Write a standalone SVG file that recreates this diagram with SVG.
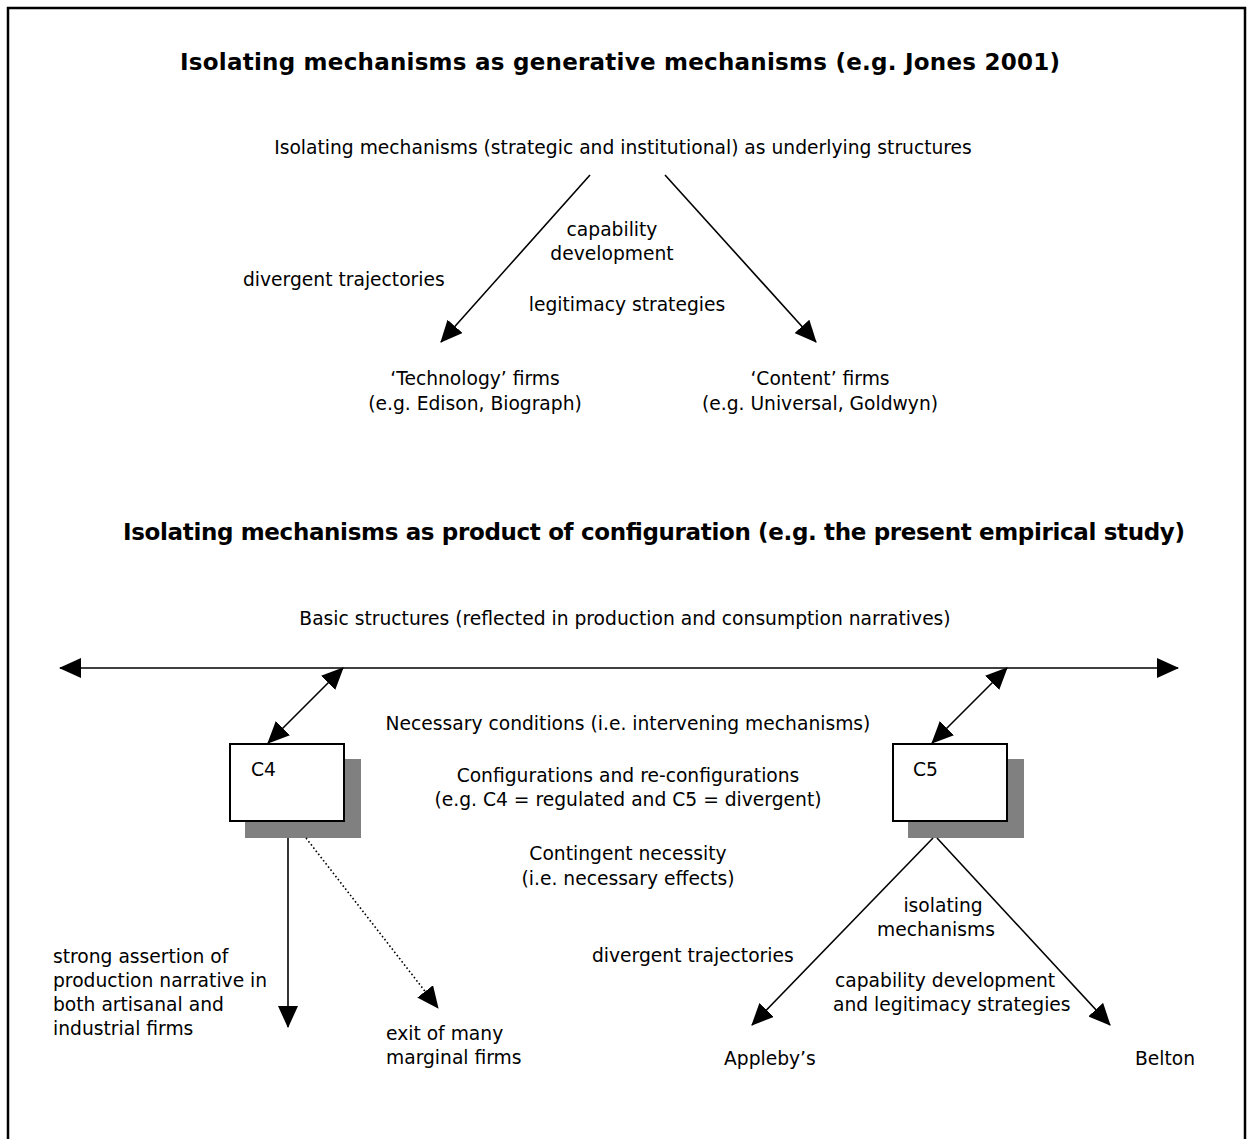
<svg xmlns="http://www.w3.org/2000/svg" width="1247" height="1139" viewBox="0 0 1247 1139">
  <defs>
    <marker id="head" viewBox="0 0 22 20" markerWidth="22" markerHeight="20" refX="21" refY="10" orient="auto-start-reverse" markerUnits="userSpaceOnUse">
      <path d="M0,0 L22,10 L0,20 z" fill="#000"/>
    </marker>
    <style>
      text { font-family: "DejaVu Sans", "Liberation Sans", sans-serif; font-size: 18.7px; fill: #000; }
      .title { font-weight: bold; font-size: 23px; }
      .mid { text-anchor: middle; }
      .line { stroke: #000; stroke-width: 1.6; fill: none; }
      .dotted { stroke: #000; stroke-width: 1.6; fill: none; stroke-dasharray: 1.6 2.4; }
      .box { fill: #fff; stroke: #000; stroke-width: 2; }
      .shadow { fill: #808080; }
    </style>
  </defs>

  <rect x="0" y="0" width="1247" height="1139" fill="#fff"/>
  <!-- frame -->
  <rect x="8" y="8" width="1237" height="1200" fill="none" stroke="#000" stroke-width="2.5"/>

  <!-- upper panel -->
  <g id="title-generative">
    <text class="title mid" x="620" y="70" textLength="880" lengthAdjust="spacing">Isolating mechanisms as generative mechanisms (e.g. Jones 2001)</text>
  </g>
  <g id="underlying-structures">
    <text class="mid" x="623" y="154">Isolating mechanisms (strategic and institutional) as underlying structures</text>
  </g>
  <g id="upper-labels">
    <text class="mid" x="612" y="236">capability</text>
    <text class="mid" x="612" y="260">development</text>
    <text x="243" y="286">divergent trajectories</text>
    <text class="mid" x="627" y="311">legitimacy strategies</text>
  </g>
  <g id="technology-firms">
    <text class="mid" x="475" y="385">‘Technology’ firms</text>
    <text class="mid" x="475" y="410">(e.g. Edison, Biograph)</text>
  </g>
  <g id="content-firms">
    <text class="mid" x="820" y="385">‘Content’ firms</text>
    <text class="mid" x="820" y="410">(e.g. Universal, Goldwyn)</text>
  </g>

  <!-- lower panel -->
  <g id="title-configuration">
    <text class="title mid" x="654" y="540" textLength="1062" lengthAdjust="spacing">Isolating mechanisms as product of configuration (e.g. the present empirical study)</text>
  </g>
  <g id="basic-structures">
    <text class="mid" x="625" y="625">Basic structures (reflected in production and consumption narratives)</text>
  </g>
  <g id="middle-labels">
    <text class="mid" x="628" y="730">Necessary conditions (i.e. intervening mechanisms)</text>
    <text class="mid" x="628" y="782">Configurations and re-configurations</text>
    <text class="mid" x="628" y="806">(e.g. C4 = regulated and C5 = divergent)</text>
    <text class="mid" x="628" y="860">Contingent necessity</text>
    <text class="mid" x="628" y="885">(i.e. necessary effects)</text>
  </g>

  <g id="node-c4">
    <rect class="shadow" x="245" y="759" width="116" height="79"/>
    <rect class="box" x="230" y="744" width="114" height="77"/>
    <text x="251" y="776">C4</text>
  </g>
  <g id="node-c5">
    <rect class="shadow" x="908" y="759" width="116" height="79"/>
    <rect class="box" x="893" y="744" width="114" height="77"/>
    <text x="913" y="776">C5</text>
  </g>

  <g id="c4-outcomes">
    <text x="53" y="963">strong assertion of</text>
    <text x="53" y="987">production narrative in</text>
    <text x="53" y="1011">both artisanal and</text>
    <text x="53" y="1035">industrial firms</text>
    <text x="386" y="1040">exit of many</text>
    <text x="386" y="1064">marginal firms</text>
  </g>

  <g id="c5-outcomes">
    <text class="mid" x="943" y="912">isolating</text>
    <text class="mid" x="936" y="936">mechanisms</text>
    <text x="592" y="962">divergent trajectories</text>
    <text x="835" y="987">capability development</text>
    <text x="833" y="1011">and legitimacy strategies</text>
    <text x="724" y="1065">Appleby’s</text>
    <text x="1135" y="1065">Belton</text>
  </g>

  <!-- connectors -->
  <g id="connectors">
    <line class="line" x1="590" y1="175" x2="441" y2="342" marker-end="url(#head)"/>
    <line class="line" x1="665" y1="175" x2="816" y2="342" marker-end="url(#head)"/>
    <line class="line" x1="60" y1="668" x2="1178" y2="668" stroke-width="2" marker-start="url(#head)" marker-end="url(#head)"/>
    <line class="line" x1="343" y1="668" x2="268" y2="743" marker-start="url(#head)" marker-end="url(#head)"/>
    <line class="line" x1="1007" y1="668" x2="932" y2="743" marker-start="url(#head)" marker-end="url(#head)"/>
    <line class="line" x1="288" y1="838" x2="288" y2="1027" marker-end="url(#head)"/>
    <line class="dotted" x1="306" y1="838" x2="438" y2="1008" marker-end="url(#head)"/>
    <line class="line" x1="933" y1="838" x2="752" y2="1025" marker-end="url(#head)"/>
    <line class="line" x1="937" y1="838" x2="1110" y2="1025" marker-end="url(#head)"/>
  </g>
</svg>
